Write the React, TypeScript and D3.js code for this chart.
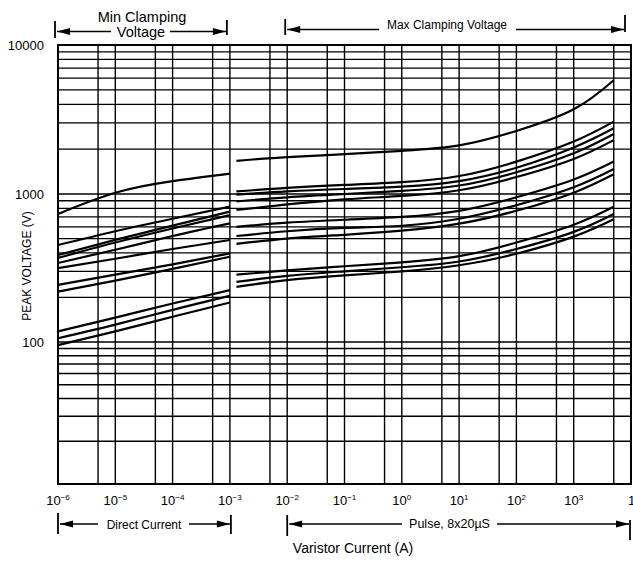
import React from 'react';
import * as d3 from 'd3';

// ---- data ----
const dcCurrent = [1e-6, 1e-5, 1e-4, 1e-3];
const dcTop = [733, 1020, 1220, 1370];
const dcGroupA1 = [452, 560, 680, 821];
const dcGroupA2 = [387, 490, 612, 760];
const dcGroupA3 = [370, 470, 585, 720];
const dcGroupA4 = [342, 420, 520, 633];
const dcGroupB1 = [316, 365, 425, 489];
const dcGroupB2 = [243, 285, 335, 397];
const dcGroupB3 = [219, 260, 312, 377];
const dcGroupC1 = [118, 146, 182, 224];
const dcGroupC2 = [106, 131, 165, 205];
const dcGroupC3 = [95, 118, 148, 185];

const pulseCurrent = [1.3e-3, 1e-2, 1e-1, 1, 10, 100, 1000, 5000];
const pulseTop = [1670, 1770, 1850, 1950, 2120, 2650, 3700, 5800];
const pulseA1 = [1040, 1100, 1150, 1200, 1320, 1650, 2250, 3060];
const pulseA2 = [990, 1040, 1080, 1120, 1220, 1500, 2050, 2760];
const pulseA3 = [890, 950, 1000, 1050, 1140, 1400, 1880, 2530];
const pulseA4 = [780, 850, 920, 970, 1060, 1300, 1720, 2300];
const pulseB1 = [600, 640, 670, 700, 770, 950, 1250, 1650];
const pulseB2 = [520, 560, 590, 610, 680, 840, 1110, 1470];
const pulseB3 = [460, 500, 530, 565, 630, 770, 1020, 1355];
const pulseC1 = [285, 305, 325, 345, 380, 470, 620, 820];
const pulseC2 = [255, 280, 300, 320, 350, 425, 555, 733];
const pulseC3 = [236, 262, 282, 300, 330, 395, 515, 675];

const dcSeries = [dcTop, dcGroupA1, dcGroupA2, dcGroupA3, dcGroupA4, dcGroupB1, dcGroupB2, dcGroupB3, dcGroupC1, dcGroupC2, dcGroupC3];
const pulseSeries = [pulseTop, pulseA1, pulseA2, pulseA3, pulseA4, pulseB1, pulseB2, pulseB3, pulseC1, pulseC2, pulseC3];

const yTickValues = [10000, 1000, 100];
const yTickLabels = ['10000', '1000', '100'];
const xTickExponents = [-6, -5, -4, -3, -2, -1, 0, 1, 2, 3, 4];
const yDecades = [10, 100, 1000];
const yMultipliers = [1, 2, 3, 4, 5, 6, 7, 8, 9];
const xGridMultipliers = [1, 5];

const FONT = "'Liberation Sans', Arial, Helvetica, sans-serif";

export default function App() {
  const W = 633, H = 562;
  const x = d3.scaleLog().domain([1e-6, 1e4]).range([58, 631]);
  const y = d3.scaleLog().domain([10, 100, 1000, 10000]).range([484, 342, 194, 45]);
  const left = x(1e-6), right = x(1e4), top = y(10000), bottom = y(10);

  const yGrid: number[] = [];
  yDecades.forEach(d => yMultipliers.forEach(m => yGrid.push(d * m)));
  yGrid.push(10000);
  const xGrid: number[] = [];
  xTickExponents.forEach(e => xGridMultipliers.forEach(m => {
    const v = m * Math.pow(10, e);
    if (v <= 1e4 * 1.0001) xGrid.push(v);
  }));

  const line = (xs: number[]) =>
    d3.line<number>()
      .x((_, i) => x(xs[i]))
      .y(v => y(v))
      .curve(d3.curveNatural);

  const dcLine = line(dcCurrent);
  const pulseLine = line(pulseCurrent);

  const arrowHead = (tipX: number, yy: number, dir: number) => {
    const L = 13, h = 3.5;
    return `M${tipX},${yy} L${tipX - dir * L},${yy - h} L${tipX - dir * L},${yy + h} Z`;
  };

  const Annot = ({ x1, x2, yy, seg1, seg2, bar1, bar2 }:
    { x1: number; x2: number; yy: number; seg1: number; seg2: number; bar1: [number, number]; bar2: [number, number] }) => (
    <g>
      <line x1={x1 - 2} x2={x1 - 2} y1={bar1[0]} y2={bar1[1]} stroke="#000" strokeWidth={1.8} />
      <line x1={x2 + 1} x2={x2 + 1} y1={bar2[0]} y2={bar2[1]} stroke="#000" strokeWidth={1.8} />
      <line x1={x1} x2={seg1} y1={yy} y2={yy} stroke="#000" strokeWidth={1.5} />
      <line x1={seg2} x2={x2} y1={yy} y2={yy} stroke="#000" strokeWidth={1.5} />
      <path d={arrowHead(x1, yy, -1)} fill="#000" />
      <path d={arrowHead(x2, yy, 1)} fill="#000" />
    </g>
  );

  return (
    <svg width={W} height={H} style={{ position: 'absolute', left: 0, top: 0, background: '#fff' }}
      fontFamily={FONT}>
      <rect x={0} y={0} width={W} height={H} fill="#fff" />
      {/* grid */}
      {yGrid.map((v, i) => (
        <line key={'hy' + i} x1={left} x2={right} y1={y(v)} y2={y(v)} stroke="#000" strokeWidth={1.3} />
      ))}
      {xGrid.map((v, i) => (
        <line key={'vx' + i} x1={x(v)} x2={x(v)} y1={top} y2={bottom} stroke="#000" strokeWidth={1.4} />
      ))}
      <rect x={left} y={top} width={right - left} height={bottom - top} fill="none" stroke="#000" strokeWidth={2} />

      {/* curves */}
      {dcSeries.map((s, i) => (
        <path key={'dc' + i} d={dcLine(s) || ''} fill="none" stroke="#000" strokeWidth={2.2} />
      ))}
      {pulseSeries.map((s, i) => (
        <path key={'pu' + i} d={pulseLine(s) || ''} fill="none" stroke="#000" strokeWidth={2.2} />
      ))}

      {/* y tick labels */}
      {yTickValues.map((v, i) => (
        <text key={'yt' + i} x={44} y={y(v)} dy="0.35em" textAnchor="end" fontSize={13}>{yTickLabels[i]}</text>
      ))}
      <text transform={`translate(31,266) rotate(-90)`} textAnchor="middle" fontSize={12}>PEAK VOLTAGE (V)</text>

      {/* x tick labels */}
      {xTickExponents.map((e, i) => {
        const cx = x(Math.pow(10, e));
        const last = i === xTickExponents.length - 1;
        return (
          <text key={'xt' + i} x={last ? cx - 3 : cx} y={505} textAnchor={last ? 'start' : 'middle'} fontSize={13}>
            10<tspan fontSize={8} dy={-5.5}>{e < 0 ? '\u2212' + Math.abs(e) : String(e)}</tspan>
          </text>
        );
      })}
      <text x={353} y={553} textAnchor="middle" fontSize={14}>Varistor Current (A)</text>

      {/* top annotations */}
      <text x={142} y={21.5} textAnchor="middle" fontSize={14.5}>Min  Clamping</text>
      <Annot x1={x(1e-6) - 1} x2={x(1e-3) - 4} yy={31.5} seg1={111} seg2={170} bar1={[21, 38]} bar2={[20, 35]} />
      <text x={141} y={36.5} textAnchor="middle" fontSize={14.5}>Voltage</text>

      <Annot x1={x(1e-2)} x2={x(1e4) - 7} yy={29.5} seg1={379} seg2={516} bar1={[19, 35]} bar2={[15, 32]} />
      <text x={447} y={29} textAnchor="middle" fontSize={12}>Max  Clamping Voltage</text>

      {/* bottom annotations */}
      <Annot x1={x(1e-6) + 2} x2={x(1e-3)} yy={524} seg1={98} seg2={189} bar1={[513, 534]} bar2={[515, 534]} />
      <text x={144} y={529} textAnchor="middle" fontSize={12}>Direct Current</text>

      <Annot x1={x(1e-2) + 2} x2={x(1e4) - 2} yy={524} seg1={402} seg2={497} bar1={[515, 536]} bar2={[520, 540]} />
      <text x={449.5} y={528} textAnchor="middle" fontSize={12.5}>Pulse, 8x20µS</text>
    </svg>
  );
}
